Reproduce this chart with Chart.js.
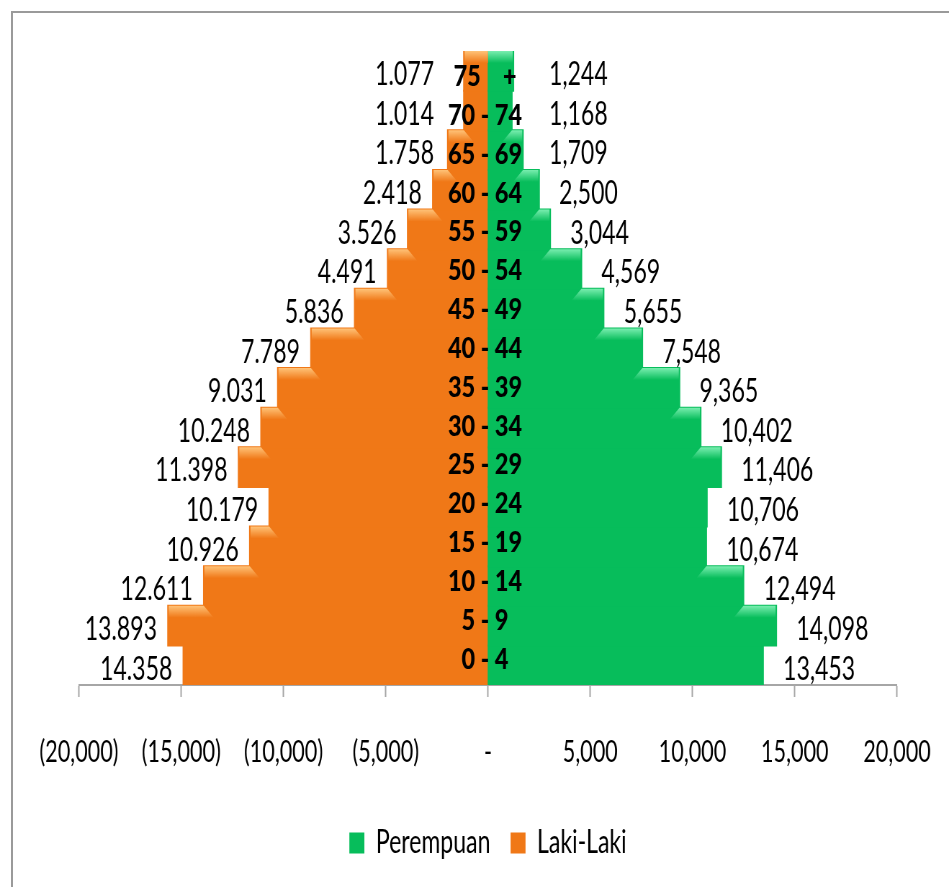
<!DOCTYPE html>
<html><head><meta charset="utf-8">
<script src="https://cdn.jsdelivr.net/npm/chart.js@4.4.1/dist/chart.umd.min.js"></script>
<style>
html,body{margin:0;padding:0;background:#fff;}
#wrap{position:relative;width:949px;height:887px;overflow:hidden;background:#fff;}
#frame{position:absolute;left:11px;top:11px;width:1000px;height:1000px;border:2px solid #9a9a9a;box-sizing:border-box;}
#c{position:absolute;left:0;top:0;width:1318px;height:887px;transform:scaleX(0.72003);transform-origin:0 0;}
</style></head><body>
<div id="wrap"><div id="frame"></div><canvas id="c" width="1318" height="887"></canvas></div>
<script>
// Age groups, bottom (youngest) to top (oldest)
const categories = ['0 - 4','5 - 9','10 - 14','15 - 19','20 - 24','25 - 29','30 - 34','35 - 39','40 - 44','45 - 49','50 - 54','55 - 59','60 - 64','65 - 69','70 - 74','75    +'];
// Perempuan (female) values
const femaleValues = [13453, 14098, 12494, 10674, 10706, 11406, 10402, 9365, 7548, 5655, 4569, 3044, 2500, 1709, 1168, 1244];
// Laki-Laki (male) bar lengths as drawn in the picture
const maleValues = [14900, 15650, 13900, 11650, 10700, 12200, 11100, 10280, 8660, 6520, 4910, 3930, 2700, 1970, 1180, 1180];
// Laki-Laki data label values as printed
const maleLabelValues = [14358, 13893, 12611, 10926, 10179, 11398, 10248, 9031, 7789, 5836, 4491, 3526, 2418, 1758, 1014, 1077];
// x-axis tick labels, from -20,000 to 20,000
const xTickLabels = ['(20,000)','(15,000)','(10,000)','(5,000)','-','5,000','10,000','15,000','20,000'];
const seriesNames = ['Perempuan','Laki-Laki'];

// the canvas is drawn wide and squeezed horizontally to get the tall, narrow lettering of the original
const SQ = 949 / 1318;
const H = v => v / SQ;   // horizontal page px -> canvas px

const FONT = 'Lato, "Open Sans", sans-serif';
const GREEN = '#07bd5b', GREEN_LIGHT = '#7aeeb0';
const ORANGE = '#f07817', ORANGE_LIGHT = '#ffc378';

function fmt(n, sep){ return String(n).replace(/\B(?=(\d{3})+(?!\d))/g, sep); }

function drawText(ctx, text, x, y, font, align, sx){
  ctx.save();
  ctx.font = font;
  ctx.textAlign = align;
  ctx.textBaseline = 'middle';
  ctx.translate(x, y);
  ctx.scale(sx, 1);
  ctx.fillText(text, 0, 0);
  ctx.restore();
}

const bevelPlugin = {
  id: 'bevel',
  afterDatasetsDraw(chart){
    const ctx = chart.ctx;
    const x0 = chart.scales.x.getPixelForValue(0);
    chart.data.datasets.forEach((ds, d) => {
      const els = chart.getDatasetMeta(d).data;
      els.forEach((el, i) => {
        const e = el.x;
        const dir = Math.sign(e - x0) || 1;
        const eAbove = i + 1 < els.length ? els[i+1].x : x0;
        if ((e - eAbove) * dir < 2) return;
        const top = el.y - el.height/2;
        const h = 12;
        let innerBot = eAbove - dir*H(10);
        if ((innerBot - x0) * dir < 0) innerBot = x0;
        const g = ctx.createLinearGradient(0, top, 0, top + h);
        g.addColorStop(0, ds.lightColor);
        g.addColorStop(1, ds.backgroundColor);
        ctx.save();
        ctx.beginPath();
        ctx.moveTo(e - dir*1, top);
        ctx.lineTo(eAbove, top);
        ctx.lineTo(innerBot, top + h);
        ctx.lineTo(e - dir*1, top + h);
        ctx.closePath();
        ctx.fillStyle = g;
        ctx.fill();
        ctx.restore();
      });
    });
  }
};

const labelPlugin = {
  id: 'labels',
  afterDatasetsDraw(chart){
    const ctx = chart.ctx;
    const x0 = chart.scales.x.getPixelForValue(0);
    const area = chart.chartArea;
    const midY = (area.top + area.bottom) / 2;
    ctx.save();
    ctx.fillStyle = '#000';
    const vFont = '32px ' + FONT;
    chart.data.datasets.forEach((ds, d) => {
      const els = chart.getDatasetMeta(d).data;
      els.forEach((el, i) => {
        if (ds.side === 'male') {
          const x = Math.min(el.x - H(11), x0 - H(54));
          drawText(ctx, fmt(maleLabelValues[i], '.'), x, el.y + 4, vFont, 'right', 1);
        } else {
          const x = Math.max(el.x + H(20), x0 + H(61));
          drawText(ctx, fmt(femaleValues[i], ','), x, el.y + 4, vFont, 'left', 1);
        }
      });
    });
    // category labels sit on the zero line, spaced slightly tighter than the bars
    const yEls = chart.getDatasetMeta(0).data;
    categories.forEach((c, i) => {
      const y = midY + (yEls[i].y - midY) * 0.98;
      drawText(ctx, c, x0 - H(3), y, '900 29px ' + FONT, 'center', 1.12);
    });
    ctx.restore();
  }
};

new Chart(document.getElementById('c'), {
  type: 'bar',
  data: {
    labels: categories,
    datasets: [
      { label: seriesNames[0], side: 'female', data: femaleValues.slice(), backgroundColor: GREEN, lightColor: GREEN_LIGHT, borderWidth: 0, inflateAmount: 1 },
      { label: seriesNames[1], side: 'male', data: maleValues.map(v => -v), backgroundColor: ORANGE, lightColor: ORANGE_LIGHT, borderWidth: 0, inflateAmount: 1 }
    ]
  },
  options: {
    indexAxis: 'y',
    responsive: false,
    animation: false,
    devicePixelRatio: 1,
    datasets: { bar: { barPercentage: 1.0, categoryPercentage: 1.0 } },
    layout: { padding: { left: H(79), right: 1318 - H(897), top: 51, bottom: 18 } },
    scales: {
      x: {
        type: 'linear', min: -20000, max: 20000, stacked: true,
        afterFit: s => { s.height = 114; s.paddingLeft = 0; s.paddingRight = 0; },
        ticks: {
          stepSize: 5000, autoSkip: false, maxRotation: 0, color: '#000', padding: 37,
          font: { family: FONT, size: 30 },
          callback: (v, i) => xTickLabels[i]
        },
        grid: { drawOnChartArea: false, drawTicks: true, tickLength: 12, tickColor: '#a6a6a6', tickWidth: 2 },
        border: { display: true, color: '#a6a6a6', width: 2 }
      },
      y: { type: 'category', stacked: true, reverse: true, display: false }
    },
    plugins: {
      legend: {
        position: 'bottom',
        labels: { boxWidth: H(15), boxHeight: 21, padding: 28, color: '#000', font: { family: FONT, size: 32 } }
      },
      tooltip: { enabled: false }
    }
  },
  plugins: [bevelPlugin, labelPlugin]
});
</script>
</body></html>
